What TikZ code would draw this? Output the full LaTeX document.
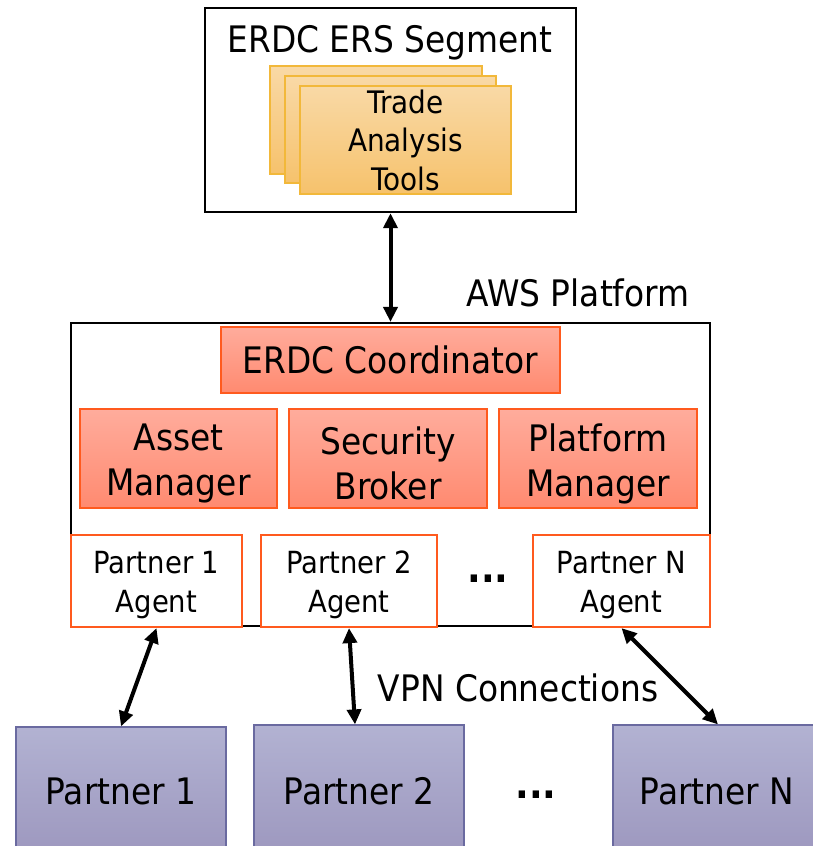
\documentclass[tikz,border=0pt]{standalone}
\usepackage{fontspec}
\setmainfont{DejaVu Sans}[FakeStretch=0.9]
\usetikzlibrary{arrows.meta,calc}
\definecolor{cardtop}{HTML}{F9D9A6}
\definecolor{cardbot}{HTML}{F6C26C}
\definecolor{cardline}{HTML}{F2B83A}
\definecolor{salmtop}{HTML}{FFAC9C}
\definecolor{salmbot}{HTML}{FF8A70}
\definecolor{salmline}{HTML}{FF5A1E}
\definecolor{purptop}{HTML}{B2B2D2}
\definecolor{purpbot}{HTML}{9A94BC}
\definecolor{purpline}{HTML}{6A6AA0}
\tikzset{
  outerbox/.style={draw=black, line width=2.4pt, fill=white, rectangle, inner sep=0pt},
  card/.style={draw=cardline, line width=1.2pt, top color=cardtop, bottom color=cardbot, rectangle, inner sep=0pt},
  salm/.style={draw=salmline, line width=1.2pt, top color=salmtop, bottom color=salmbot, rectangle, inner sep=0pt},
  salmtext/.style={inner sep=0pt, align=center, font=\fontsize{36.5}{45}\selectfont},
  agent/.style={draw=salmline, line width=2.2pt, fill=white, rectangle, inner sep=0pt, minimum height=92pt},
  agenttext/.style={inner sep=0pt, align=center, font=\fontsize{30.5}{39}\selectfont},
  partner/.style={draw=purpline, line width=1.2pt, top color=purptop, bottom color=purpbot, rectangle, inner sep=0pt},
  lbl/.style={inner sep=0pt, font=\fontsize{36.5}{42}\selectfont},
  dots/.style={inner sep=0pt, font=\fontsize{40}{42}\bfseries},
  conn/.style={line width=4pt, {Triangle[length=15pt,width=14pt]}-{Triangle[length=15pt,width=14pt]}}
}
\begin{document}
\begin{tikzpicture}[x=1pt,y=-1pt]
\useasboundingbox (0,0) rectangle (813,846);
\clip (0,0) rectangle (813,846);
% top segment
\node[outerbox, minimum width=371pt, minimum height=204pt] (top) at (390.5,110) {};
\node[lbl] (toplbl) at (390,43) {ERDC ERS Segment};
\node[card, minimum width=212pt, minimum height=108pt] (card3) at (376,120) {};
\node[card, minimum width=211pt, minimum height=107pt] (card2) at (390.5,129.5) {};
\node[card, minimum width=211pt, minimum height=108pt, align=center, font=\fontsize{31}{38.5}\selectfont] (card1) at (405.5,140) {Trade\\Analysis\\Tools};
% AWS platform
\node[outerbox, line width=2.2pt, minimum width=639pt, minimum height=303pt] (aws) at (390.5,474.5) {};
\node[lbl] (awslbl) at (578,293) {AWS Platform};
\node[salm, salmtext, minimum width=339pt, minimum height=66pt] (coord) at (390.5,360) {ERDC Coordinator};
\node[salm, minimum width=197pt, minimum height=99pt] (asset) at (178.5,458.5) {};
\node[salm, minimum width=198pt, minimum height=99pt] (sec) at (388,458.5) {};
\node[salm, minimum width=198pt, minimum height=99pt] (plat) at (598,458.5) {};
\node[salmtext] (assetT) at ([yshift=-5pt]asset.center) {Asset\\Manager};
\node[salmtext] (secT) at ([yshift=-5pt]sec.center) {Security\\Broker};
\node[salmtext] (platT) at ([yshift=-5pt]plat.center) {Platform\\Manager};
\node[agent, minimum width=171pt] (a1) at (156.5,581) {};
\node[agent, minimum width=176pt] (a2) at (349,581) {};
\node[agent, minimum width=177pt] (an) at (621.5,581) {};
\node[agenttext] (a1T) at ([yshift=-4pt]a1.center) {Partner 1\\Agent};
\node[agenttext] (a2T) at ([yshift=-4pt]a2.center) {Partner 2\\Agent};
\node[agenttext] (anT) at ([yshift=-4pt]an.center) {Partner N\\Agent};
\node[dots] (adots) at (488,579) {...};
% partners
\node[partner, minimum width=210pt, minimum height=146pt] (p1) at (121,800) {};
\node[partner, minimum width=210pt, minimum height=148pt] (p2) at (359,799) {};
\node[partner, minimum width=217pt, minimum height=148pt] (pn) at (721.5,799) {};
\node[lbl] (p1t) at (121,791) {Partner 1};
\node[lbl] (p2t) at (359,791) {Partner 2};
\node[lbl] (pnt) at (717,791) {Partner N};
\node[dots] (pdots) at (536,795) {...};
\node[lbl] (vpn) at (518,688) {VPN Connections};
% connectors
\draw[conn] (top.south) -- (aws.north);
\draw[conn] (a1.south) -- (p1.north);
\draw[conn] (a2.south) -- ([xshift=-4pt]p2.north);
\draw[conn] (an.south) -- ([xshift=-3.5pt]pn.north);
\end{tikzpicture}
\end{document}
